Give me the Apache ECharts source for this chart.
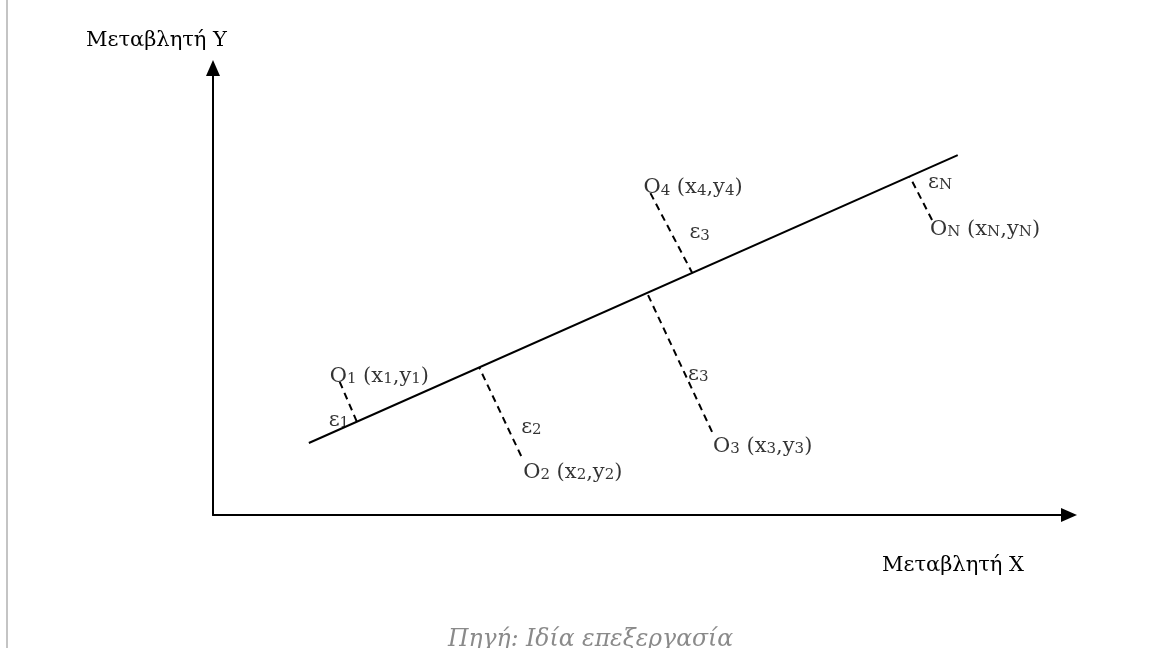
<!DOCTYPE html>
<html>
<head>
<meta charset="UTF-8">
<title>Παλινδρόμηση και κατάλοιπα</title>
<script src="https://cdn.jsdelivr.net/npm/echarts@6.0.0/dist/echarts.min.js"></script>
<style>
  html, body { margin: 0; padding: 0; background: #fff; }
  #chart { width: 1163px; height: 648px; }
  #margin-line { position: absolute; left: 6px; top: 0; width: 2px; height: 648px; background: #c4c4c4; }
</style>
</head>
<body>
<div id="margin-line"></div>
<div id="chart"></div>
<script>
// regression line ends (axis units, both axes 0-100)
const lineX = [11.2, 87.0];
const lineY = [16.1, 80.5];

// observations O_i and the matching point on the line
const obsIds = ['1', '2', '3', '4', 'N'];
const obsX = [14.8, 36.0, 58.3, 51.1, 84.0];
const obsY = [29.8, 13.2, 18.6, 72.0, 66.0];
const fitX = [16.8, 31.1, 50.7, 56.0, 81.4];
const fitY = [20.9, 33.0, 49.7, 54.1, 75.7];
// residual names as printed (the 4th is printed as ε3 in the source too)
const residIds = ['1', '2', '3', '3', 'N'];

const axisNames = ['Μεταβλητή X', 'Μεταβλητή Y'];
const sourceNote = 'Πηγή: Ιδία επεξεργασία';

// label placement, px from the observation point to the text's left baseline
const obsLabelShift = [[-10, 0], [2, 22], [1, 20], [-7, 0], [-2, 15]];
const residLabelShift = [[-11, 44], [0, -23], [-24, -52], [39, 45], [-4, -32]];

const FONT = 'DejaVu Serif';
const FS = 21;
const SUB = 15;
const baseDrop = 5;

const rich = {
    m: { fontFamily: FONT, fontSize: FS, lineHeight: FS + 2, color: '#000', verticalAlign: 'bottom' },
    s: { fontFamily: FONT, fontSize: SUB, lineHeight: FS + 2, color: '#000', verticalAlign: 'bottom' }
};

const chart = echarts.init(document.getElementById('chart'), null, { renderer: 'canvas' });

const hiddenAxis = {
    type: 'value',
    min: 0,
    max: 100,
    axisLine: {
        show: true,
        symbol: ['none', 'triangle'],
        symbolSize: [14, 16],
        lineStyle: { color: '#000', width: 2 }
    },
    axisTick: { show: false },
    axisLabel: { show: false },
    splitLine: { show: false }
};

const titleStyle = { fontFamily: FONT, fontSize: FS, fontWeight: 'normal', color: '#000' };

const option = {
    animation: false,
    title: [
        { text: axisNames[1], left: 86, top: 30, padding: 0, textStyle: titleStyle },
        { text: axisNames[0], left: 882, top: 555, padding: 0, textStyle: titleStyle },
        {
            text: sourceNote, left: 448, top: 628, padding: 0,
            textStyle: { fontFamily: FONT, fontSize: 23.5, fontStyle: 'italic', fontWeight: 'normal', color: '#8a8a8a' }
        }
    ],
    grid: { left: 213, right: 94, top: 68, bottom: 133 },
    xAxis: hiddenAxis,
    yAxis: hiddenAxis,
    series: [
        {
            name: 'line',
            type: 'line',
            data: lineX.map((x, i) => [x, lineY[i]]),
            showSymbol: false,
            lineStyle: { color: '#000', width: 2 },
            silent: true
        },
        {
            name: 'residuals',
            type: 'lines',
            coordinateSystem: 'cartesian2d',
            data: obsX.map((x, i) => ({ coords: [[x, obsY[i]], [fitX[i], fitY[i]]] })),
            lineStyle: { color: '#000', width: 2, type: [7, 5], opacity: 1 },
            silent: true
        },
        {
            name: 'obs',
            type: 'scatter',
            symbolSize: 0,
            data: obsX.map((x, i) => ({
                value: [x, obsY[i]],
                label: { offset: [obsLabelShift[i][0], obsLabelShift[i][1] + baseDrop] }
            })),
            label: {
                show: true,
                position: [0, 0],
                align: 'left',
                verticalAlign: 'bottom',
                formatter: p => {
                    const k = obsIds[p.dataIndex];
                    return `{m|O}{s|${k}}{m| (x}{s|${k}}{m|,y}{s|${k}}{m|)}`;
                },
                rich: rich
            },
            silent: true
        },
        {
            name: 'eps',
            type: 'scatter',
            symbolSize: 0,
            data: obsX.map((x, i) => ({
                value: [x, obsY[i]],
                label: { offset: [residLabelShift[i][0], residLabelShift[i][1] + baseDrop] }
            })),
            label: {
                show: true,
                position: [0, 0],
                align: 'left',
                verticalAlign: 'bottom',
                formatter: p => `{m|ε}{s|${residIds[p.dataIndex]}}`,
                rich: rich
            },
            silent: true
        }
    ]
};

chart.setOption(option);
</script>
</body>
</html>
